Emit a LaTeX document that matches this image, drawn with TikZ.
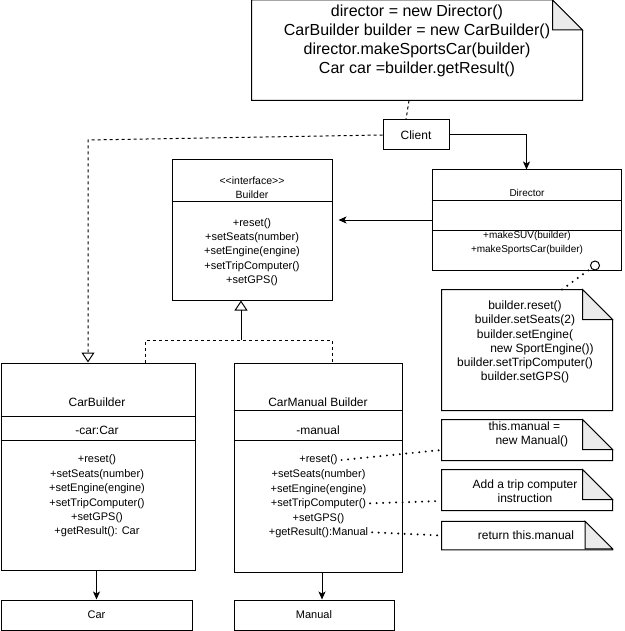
\documentclass[tikz,border=0pt]{standalone}
\usepackage{fontspec}
\setmainfont{Liberation Sans}
\usetikzlibrary{arrows.meta}
\definecolor{foldgray}{RGB}{235,235,235}
\newcommand{\fsz}[2]{\fontsize{#1}{#2}\selectfont}
\newcommand{\dognote}[2][30pt]{%
\draw (#2.north west) -- ([xshift=-#1]#2.north east) -- ([yshift=-#1]#2.north east) -- (#2.south east) -- (#2.south west) -- cycle;
\draw[fill=foldgray] ([xshift=-#1]#2.north east) -- ([xshift=-#1,yshift=-#1]#2.north east) -- ([yshift=-#1]#2.north east) -- cycle;}
\begin{document}
\begin{tikzpicture}[x=1pt,y=-1pt,line width=1pt,
classbox/.style={draw,inner sep=0pt},
notearea/.style={inner sep=0pt},
txt/.style={inner sep=0pt,align=center},
op/.style={inner sep=0pt,outer sep=4pt,font=\fsz{11}{14.4}},
dashline/.style={dash pattern=on 3pt off 3pt},
dotline/.style={line width=2.2pt,line cap=round,dash pattern=on 0pt off 6.5pt},
assoc/.style={-{Stealth[length=8pt,width=7pt,inset=2pt]}},
realize/.style={-{Triangle[open,length=10pt,width=13pt]}}]
\useasboundingbox (0,0) rectangle (624,631);
\node[notearea,minimum width=330pt,minimum height=99.5pt] (codenote) at (417,50.25) {};
\dognote{codenote}
\node[txt,font=\fsz{16}{19}] (codetext) at (417,41) {director = new Director()\\CarBuilder builder = new CarBuilder()\\director.makeSportsCar(builder)\\Car car =builder.getResult()};
\node[classbox,minimum width=66pt,minimum height=30pt,font=\fsz{12}{14}] (client) at (416,135) {Client};
\node[classbox,minimum width=160pt,minimum height=140pt] (builder) at (252,230) {};
\draw (builder.west |- 0,201) -- (builder.east |- 0,201);
\node[txt,font=\fsz{10.5}{14}] (buildername) at (252,188) {<\kern0pt<interface>\kern0pt>\\Builder};
\node[txt,font=\fsz{11}{14.4}] (builderops) at (252,252) {+reset()\\+setSeats(number)\\+setEngine(engine)\\+setTripComputer()\\+setGPS()};
\node[classbox,minimum width=189pt,minimum height=100pt] (director) at (526.5,220) {};
\draw (director.west |- 0,200) -- (director.east |- 0,200);
\draw (director.west |- 0,230) -- (director.east |- 0,230);
\node[txt,font=\fsz{10}{12}] (directorname) at (527,192.5) {Director};
\node[txt,font=\fsz{10}{14}] (directorops) at (527,243) {+makeSUV(builder)\\+makeSportsCar(builder)};
\node[notearea,minimum width=170pt,minimum height=120pt] (recipenote) at (527,350) {};
\dognote{recipenote}
\node[txt,font=\fsz{12}{14.2}] (recipetext) at (525,342) {builder.reset()\\builder.setSeats(2)\\builder.setEngine(\\\hspace*{34pt}new SportEngine())\\builder.setTripComputer()\\builder.setGPS()};
\node[draw,circle,fill=white,inner sep=0pt,minimum size=9pt] (port) at (595,265.5) {};
\draw[dotline] ([xshift=35pt]recipenote.north) -- (port);
\node[classbox,minimum width=194pt,minimum height=207pt] (carbuilder) at (98,466.5) {};
\draw (carbuilder.west |- 0,416) -- (carbuilder.east |- 0,416);
\draw (carbuilder.west |- 0,440) -- (carbuilder.east |- 0,440);
\node[txt,font=\fsz{12}{14}] (carbuildername) at (97,402) {CarBuilder};
\node[txt,font=\fsz{12}{14}] (carfield) at (97,430) {-car:Car};
\node[txt,font=\fsz{11}{14.4}] (carbuilderops) at (97,496) {+reset()\\+setSeats(number)\\+setEngine(engine)\\+setTripComputer()\\+setGPS()\\+getResult(): Car};
\node[classbox,minimum width=168pt,minimum height=209pt] (carmanual) at (318,467.5) {};
\draw (carmanual.west |- 0,410) -- (carmanual.east |- 0,410);
\draw (carmanual.west |- 0,440) -- (carmanual.east |- 0,440);
\node[txt,font=\fsz{12}{14}] (carmanualname) at (318,402) {CarManual Builder};
\node[txt,font=\fsz{12}{14}] (manualfield) at (318,430) {-manual};
\node[op] (mreset) at (318.5,460) {+reset()};
\node[op] (mseats) at (318.5,475) {+setSeats(number)};
\node[op] (mengine) at (318.5,489.3) {+setEngine(engine)};
\node[op] (mtrip) at (318.5,503.3) {+setTripComputer()};
\node[op] (mgps) at (318.5,518.3) {+setGPS()};
\node[op] (mresult) at (318.5,532.3) {+getResult():Manual};
\node[notearea,minimum width=170pt,minimum height=40pt] (resetnote) at (527,440) {};
\dognote{resetnote}
\node[txt,align=left,anchor=west,font=\fsz{12}{14}] (resettext) at (488,434) {this.manual =\\\hspace*{7pt}new Manual()};
\node[notearea,minimum width=170pt,minimum height=40pt] (tripnote) at (527,490) {};
\dognote{tripnote}
\node[txt,font=\fsz{12}{14}] (triptext) at (525,491) {Add a trip computer\\instruction};
\node[notearea,minimum width=170pt,minimum height=27.5pt] (returnnote) at (527,535.5) {};
\dognote[27.5pt]{returnnote}
\node[txt,font=\fsz{12}{14}] (returntext) at (526,535) {return this.manual};
\node[classbox,minimum width=191pt,minimum height=30pt,font=\fsz{11}{13}] (car) at (96.5,615) {Car};
\node[classbox,minimum width=160pt,minimum height=30pt,font=\fsz{11}{13}] (manual) at (314,615) {Manual};
\draw[dashline] ([xshift=-8pt]codenote.south) -- ([xshift=-10pt]client.north);
\draw[assoc] (client.east) -| (director.north);
\coordinate (bend) at (88,140);
\draw[dashline,realize] (client.west) -- (bend) -- (bend |- carbuilder.north);
\draw[assoc,shorten >=6pt] (director.west) -- (builder.east |- director.west);
\coordinate (join) at (241,340);
\draw[dashline] ([xshift=47pt]carbuilder.north) |- (join) -| ([xshift=14pt]carmanual.north);
\draw[realize] (join) -- (join |- builder.south);
\draw[assoc] (carbuilder.south -| car.north) -- (car.north);
\draw[assoc] ([xshift=4pt]carmanual.south) -- ([xshift=8pt]manual.north);
\draw[dotline] (mreset.east) -- ([yshift=-10pt]resetnote.west);
\draw[dotline] (mtrip.east) -- ([yshift=-11pt]tripnote.west);
\draw[dotline] (mresult.east) -- (returnnote.west);
\end{tikzpicture}
\end{document}
